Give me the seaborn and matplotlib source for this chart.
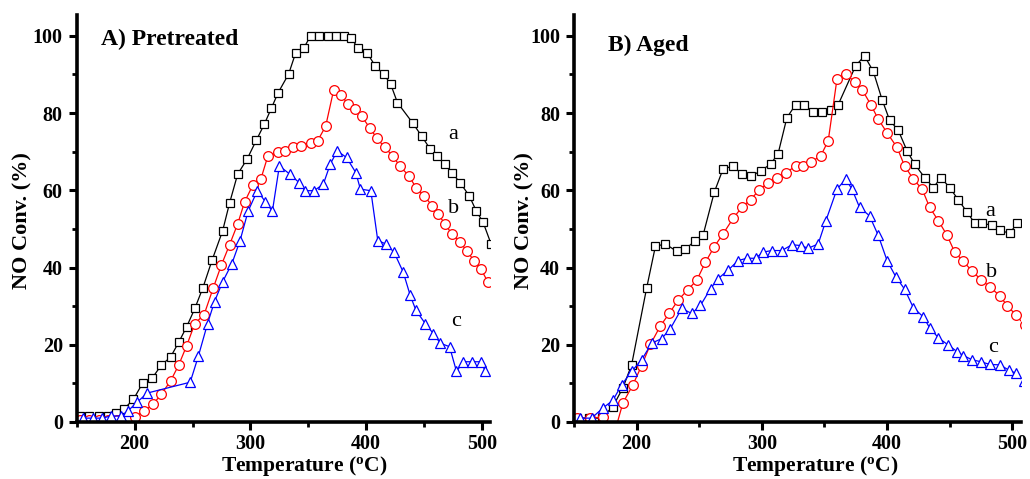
import matplotlib
matplotlib.use("Agg")
import matplotlib.pyplot as plt
import numpy as np
import pandas as pd
import seaborn as sns
from matplotlib.ticker import MultipleLocator

# ---- data (temperature in C, NO conversion in %) ----
# A) Pretreated
pre_a_temp = [153, 161, 169, 177, 184, 191, 199, 207, 215, 223, 231, 238, 245, 252, 259, 267,
              276, 282, 289, 297, 305, 312, 318, 324, 333, 339, 346, 352, 359, 367, 374, 381,
              387, 393, 401, 408, 415, 421, 427, 440, 448, 455, 461, 468, 474, 481, 489, 495,
              501, 508]
pre_a_conv = [1.5, 1.5, 1.5, 1.5, 2.3, 3.4, 5.9, 10.1, 11.3, 14.7, 16.8, 20.6, 24.7, 29.4, 34.8, 42.0,
              49.5, 56.7, 64.2, 68.0, 72.9, 77.1, 81.2, 85.3, 90.1, 95.5, 96.8, 100, 100, 100, 100, 100,
              99.4, 96.8, 95.5, 92.1, 90.1, 87.6, 82.7, 77.5, 74.0, 70.8, 68.9, 66.8, 64.6, 62.0, 58.6, 54.7,
              51.7, 46.0]

pre_b_temp = [153, 161, 169, 177, 185, 193, 200, 208, 216, 223, 231, 238, 245, 252, 260, 268,
              275, 282, 289, 295, 302, 309, 315, 324, 330, 337, 344, 352, 358, 365, 372, 378,
              384, 390, 396, 403, 409, 416, 423, 429, 437, 443, 450, 457, 462, 468, 474, 481,
              487, 493, 499, 505]
pre_b_conv = [0.5, 0.5, 0.5, 0.5, 0.5, 0.5, 1.3, 2.8, 4.6, 7.2, 10.6, 14.7, 19.8, 25.5, 27.8, 34.8,
              40.7, 45.9, 51.3, 57.0, 61.3, 62.9, 68.8, 69.8, 70.2, 71.1, 71.6, 72.3, 72.8, 76.6, 86.1, 84.8,
              82.4, 81.1, 79.2, 76.2, 73.6, 71.1, 68.9, 66.3, 63.7, 60.7, 58.6, 56.0, 53.9, 51.3, 48.7, 46.6,
              44.3, 41.8, 39.7, 36.3]

pre_c_temp = [155, 164, 172, 180, 188, 194, 202, 211, 248, 255, 263, 269, 276, 284, 291, 298,
              306, 313, 319, 325, 334, 342, 347, 355, 363, 369, 375, 383, 391, 395, 404, 410,
              417, 424, 432, 438, 443, 451, 458, 464, 472, 478, 484, 491, 499, 503]
pre_c_conv = [1, 1, 1, 1.6, 1.5, 2.8, 5.1, 7.5, 10.3, 17.0, 25.5, 31.2, 36.3, 41.0, 46.9, 54.6,
              59.9, 57.0, 54.6, 66.3, 64.2, 62.0, 59.9, 59.9, 61.6, 66.8, 70.2, 68.5, 64.6, 60.3, 59.9, 47.0,
              46.1, 44.0, 38.8, 32.8, 28.9, 25.5, 22.9, 20.4, 19.5, 13.1, 15.6, 15.6, 15.6, 13.1]

# B) Aged
aged_a_temp = [152, 162, 172, 181, 189, 196, 208, 215, 223, 232, 239, 247, 253, 262, 269, 277,
               284, 291, 299, 307, 313, 320, 327, 334, 341, 348, 355, 361, 375, 382, 389, 396,
               402, 409, 416, 422, 430, 437, 443, 450, 457, 464, 470, 476, 484, 490, 498, 504]
aged_a_conv = [1, 1, 1, 4.0, 8.8, 14.8, 34.7, 45.5, 46.1, 44.2, 44.8, 47.0, 48.3, 59.5, 65.5, 66.3,
               64.2, 63.6, 65.0, 66.8, 69.5, 78.8, 82.2, 82.2, 80.2, 80.2, 80.9, 82.2, 92.3, 94.8, 90.8, 83.5,
               78.2, 75.5, 70.2, 66.8, 63.3, 60.7, 63.3, 60.7, 57.5, 54.3, 51.5, 51.5, 50.9, 49.6, 48.9, 51.5]

aged_b_temp = [152, 163, 173, 183, 189, 197, 204, 211, 219, 226, 233, 241, 248, 255, 262, 269,
               277, 284, 291, 298, 305, 312, 319, 327, 333, 339, 347, 353, 360, 367, 374, 380,
               387, 393, 400, 408, 414, 421, 428, 434, 441, 448, 454, 461, 468, 475, 482, 490,
               496, 503, 510]
aged_b_conv = [1, 1, 1.3, -2, 4.9, 9.6, 14.6, 20.1, 24.9, 28.1, 31.5, 34.3, 36.7, 41.4, 45.4, 48.7,
               52.7, 55.6, 57.6, 60.1, 62.0, 63.3, 64.6, 66.2, 66.3, 67.3, 68.9, 72.8, 88.8, 90.2, 88.1, 86.1,
               82.2, 78.4, 74.9, 71.1, 66.3, 62.9, 60.3, 55.6, 52.1, 48.3, 44.0, 41.6, 39.0, 36.9, 35.0, 32.7,
               30.1, 27.7, 25.0]

aged_c_temp = [155, 164, 173, 181, 188, 196, 204, 212, 220, 227, 236, 244, 251, 259, 265, 273,
               281, 288, 295, 301, 308, 316, 324, 331, 337, 345, 351, 360, 367, 372, 378, 386,
               393, 400, 407, 414, 421, 429, 434, 441, 449, 456, 461, 468, 475, 482, 490, 497,
               503, 509]
aged_c_conv = [1, 1, 3.6, 5.6, 9.6, 13.1, 16.1, 20.4, 21.6, 24.2, 29.4, 28.1, 30.2, 34.5, 37.1, 39.3,
               41.8, 42.4, 42.4, 44.0, 44.4, 44.4, 45.9, 45.7, 45.0, 46.1, 52.0, 60.3, 62.9, 60.3, 55.6, 53.4,
               48.3, 41.8, 37.6, 34.4, 29.6, 27.2, 24.4, 21.8, 19.9, 18.2, 17.2, 16.1, 15.6, 14.9, 14.8, 13.5,
               12.6, 10.5]

series_labels = ["a", "b", "c"]
panel_titles = ["A) Pretreated", "B) Aged"]
y_ticks = [0, 20, 40, 60, 80, 100]
x_ticks = [200, 300, 400, 500]

STYLES = {
    "a": dict(color="black", marker="s", markersize=6.2),
    "b": dict(color="#FF0000", marker="o", markersize=7.0),
    "c": dict(color="#0000FF", marker="^", markersize=7.2),
}

SERIF = ["Liberation Serif", "DejaVu Serif"]


def _panel(ax, curves, title, title_pos, letter_pos, xlabel_x, ylabel_x):
    for key, (temp, conv) in zip(series_labels, curves):
        st = STYLES[key]
        df = pd.DataFrame({"temp": temp, "conv": conv})
        sns.lineplot(
            data=df, x="temp", y="conv", ax=ax, sort=False, estimator=None,
            color=st["color"], linewidth=0.9, marker=st["marker"], markersize=st["markersize"],
            markerfacecolor="white", markeredgecolor=st["color"], markeredgewidth=0.9,
        )

    ax.set_xlim(150, 507)
    ax.set_ylim(0, 105.4)
    ax.set_xticks(x_ticks)
    ax.set_yticks(y_ticks)
    ax.xaxis.set_minor_locator(MultipleLocator(50))
    ax.yaxis.set_minor_locator(MultipleLocator(10))
    ax.tick_params(which="major", direction="out", length=6, width=2.2, pad=4,
                   labelsize=14.5, color="black", labelcolor="black")
    ax.tick_params(axis="x", which="major", pad=3)
    ax.tick_params(which="minor", direction="out", length=3.5, width=2.0, color="black")
    for lab in ax.get_xticklabels() + ax.get_yticklabels():
        lab.set_fontweight("bold")
        lab.set_family(SERIF)

    for side in ("top", "right"):
        ax.spines[side].set_visible(False)
    for side in ("left", "bottom"):
        ax.spines[side].set_linewidth(2.6)
        ax.spines[side].set_color("black")

    ax.set_xlabel("Temperature ($\\mathbf{^o}$C)", fontsize=15.5, fontweight="bold",
                  family=SERIF, color="black", labelpad=0)
    ax.xaxis.label.set_position((xlabel_x, 0))
    ax.set_ylabel("")
    ax.text(ylabel_x, 0.494, "NO Conv. (%)", transform=ax.transAxes, rotation=90,
            ha="center", va="center", fontsize=16, fontweight="bold", family=SERIF,
            color="black")

    ax.text(title_pos[0], title_pos[1], title, fontsize=17, fontweight="bold",
            family=SERIF, ha="left", va="baseline", color="black")
    for key, (lx, ly) in zip(series_labels, letter_pos):
        ax.text(lx, ly, key, fontsize=16, family=SERIF, ha="center", va="center",
                color="black")


sns.set_theme(style="ticks")
plt.rcParams["font.family"] = SERIF
plt.rcParams["mathtext.fontset"] = "custom"
plt.rcParams["mathtext.rm"] = "Liberation Serif"
plt.rcParams["mathtext.bf"] = "Liberation Serif:bold"

fig = plt.figure(figsize=(10.30, 4.79), dpi=100)
ax_a = fig.add_axes([0.0745, 0.119, 0.4013, 0.8497])
ax_b = fig.add_axes([0.5573, 0.119, 0.4340, 0.8497])

_panel(
    ax_a,
    [(pre_a_temp, pre_a_conv), (pre_b_temp, pre_b_conv), (pre_c_temp, pre_c_conv)],
    panel_titles[0], (170.7, 97.7),
    [(475.2, 74.5), (475.2, 55.2), (477.8, 26.0)],
    0.55, -0.132,
)
_panel(
    ax_b,
    [(aged_a_temp, aged_a_conv), (aged_b_temp, aged_b_conv), (aged_c_temp, aged_c_conv)],
    panel_titles[1], (177.2, 96.0),
    [(482.3, 54.5), (483.1, 38.8), (484.9, 19.3)],
    0.54, -0.110,
)

fig.savefig("out.png", dpi=100)
